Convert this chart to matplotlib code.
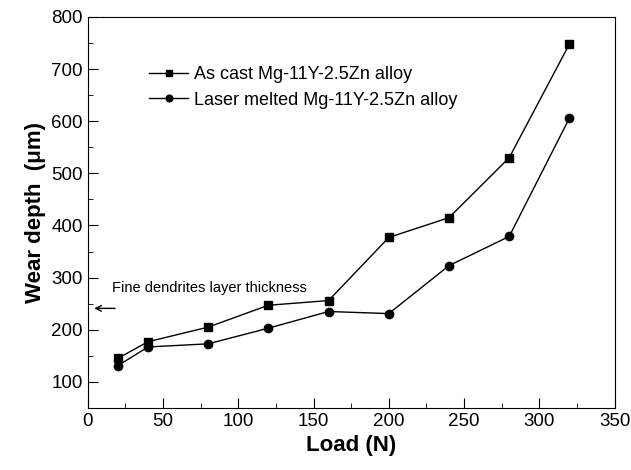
import matplotlib.pyplot as plt
from matplotlib.ticker import MultipleLocator

plt.rcParams['font.family'] = ['Liberation Sans', 'DejaVu Sans']

# Data
load = [20, 40, 80, 120, 160, 200, 240, 280, 320]
as_cast = [145, 177, 205, 247, 256, 377, 415, 530, 748]
laser_melted = [131, 167, 173, 203, 235, 231, 323, 379, 606]

fig = plt.figure(figsize=(6.31, 4.70), dpi=100)
ax = fig.add_axes([0.139, 0.132, 0.835, 0.832])

ax.plot(load, as_cast, 'k-s', lw=1, ms=6, label='As cast Mg-11Y-2.5Zn alloy')
ax.plot(load, laser_melted, 'k-o', lw=1, ms=6, label='Laser melted Mg-11Y-2.5Zn alloy')

ax.set_xlim(0, 350)
ax.set_ylim(50, 800)
ax.xaxis.set_major_locator(MultipleLocator(50))
ax.xaxis.set_minor_locator(MultipleLocator(25))
ax.yaxis.set_major_locator(MultipleLocator(100))
ax.yaxis.set_minor_locator(MultipleLocator(50))
ax.tick_params(which='both', direction='in', top=False, right=False, labelsize=13.5)
ax.tick_params(which='major', length=7)
ax.tick_params(which='minor', length=3.5)
ax.set_yticks(range(100, 801, 100))

ax.set_xlabel('Load (N)', fontsize=16, fontweight='bold')
ax.set_ylabel('Wear depth  (\u03bcm)', fontsize=16, fontweight='bold')

# thickness marker
ax.annotate('', xy=(2.5, 241), xytext=(20, 241),
            arrowprops=dict(arrowstyle='->', color='k', lw=1))
ax.text(16, 281, 'Fine dendrites layer thickness', fontsize=10.5, va='center')

ax.legend(loc='upper left', bbox_to_anchor=(0.085, 0.915), frameon=False,
          fontsize=13, handlelength=2.2, handletextpad=0.3,
          labelspacing=0.45, numpoints=1, markerscale=0.8)

fig.savefig('out.png', dpi=100)
